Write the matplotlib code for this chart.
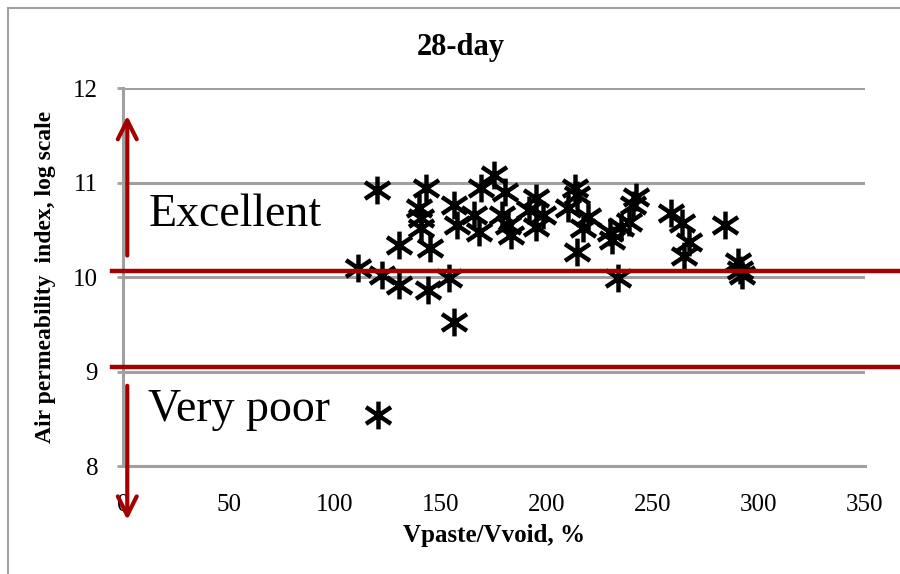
import matplotlib.pyplot as plt
from matplotlib.lines import Line2D
from matplotlib.path import Path

# Vpaste/Vvoid (%) and air permeability index (log scale), 28-day
vpaste_vvoid = [111, 120, 122, 130, 130, 139.5, 140.5, 140.5, 143, 144, 145, 154,
                156, 156, 157.5, 165.5, 168, 169, 175, 180, 179, 181.5, 183,
                191.5, 195, 195, 198, 210, 213, 214, 214, 217, 219.5, 229.5,
                230.5, 233.5, 235, 238.5, 240.5, 242, 258.5, 263.5, 267, 264.5,
                284, 290, 291, 292, 120.5]
perm_index = [10.10, 10.92, 10.02, 9.92, 10.34, 10.73, 10.63, 10.52, 10.94, 9.86,
              10.31, 9.99, 9.53, 10.76, 10.55, 10.66, 10.48, 10.95, 11.08, 10.90,
              10.66, 10.55, 10.45, 10.71, 10.84, 10.53, 10.66, 10.73, 10.95, 10.87,
              10.27, 10.52, 10.64, 10.48, 10.39, 9.99, 10.53, 10.58, 10.76, 10.85,
              10.68, 10.57, 10.37, 10.23, 10.55, 10.16, 10.08, 10.02, 8.54]

thresholds = [10.07, 9.05]
zone_labels = ["Excellent", "Very poor"]
zone_label_y = [10.66, 8.6]

red = '#a30000'
grey = '#a0a0a0'
serif = ['Liberation Serif', 'DejaVu Serif']

# Excel-style star: vertical bar + wide X
star = Path([(0, -1), (0, 1), (-0.9, -0.6), (0.9, 0.6), (-0.9, 0.6), (0.9, -0.6)],
            [Path.MOVETO, Path.LINETO] * 3)

fig = plt.figure(figsize=(9, 5.74), dpi=100)
ax = fig.add_axes([0.1367, 0.188, 0.8244, 0.658])

ax.scatter(vpaste_vvoid, perm_index, marker=star, s=400, color='black',
           linewidths=3.2, zorder=3)

for t in thresholds:
    ax.plot([-5, 372], [t, t], color=red, lw=3.2, clip_on=False, zorder=4)

# arrows
ax.annotate('', xy=(2, 11.74), xytext=(2, 10.2), annotation_clip=False,
            arrowprops=dict(arrowstyle='->', color=red, lw=3, mutation_scale=34))
ax.annotate('', xy=(2, 7.4), xytext=(2, 8.88), annotation_clip=False,
            arrowprops=dict(arrowstyle='->', color=red, lw=3, mutation_scale=34))

for lab, y in zip(zone_labels, zone_label_y):
    ax.text(12, y, lab, fontsize=33, family=serif, va='center', ha='left', zorder=5)

ax.set_xlim(0, 350)
ax.set_ylim(8, 12)
ax.set_xticks(range(0, 351, 50))
ax.set_yticks([8, 9, 10, 11, 12])
ax.grid(axis='y', color=grey, lw=2.2)
ax.set_axisbelow(True)
for s in ['top', 'right']:
    ax.spines[s].set_visible(False)
for s in ['left', 'bottom']:
    ax.spines[s].set_color(grey)
    ax.spines[s].set_linewidth(2.2)
ax.tick_params(axis='y', length=4, color=grey, width=2, pad=14)
ax.tick_params(axis='x', length=0, pad=20)
for lbl in ax.get_xticklabels() + ax.get_yticklabels():
    lbl.set_family(serif)
    lbl.set_fontsize(18)

ax.set_xlabel('Vpaste/Vvoid, %', family=serif, fontsize=18, fontweight='bold', labelpad=6)
ax.set_ylabel('Air permeability  index, log scale', family=serif, fontsize=17,
              fontweight='bold', labelpad=12)
fig.text(0.512, 0.918, '28-day', family=serif, fontsize=22, fontweight='bold',
         ha='center', va='center')

# chart border (left and top edges visible)
fig.add_artist(Line2D([8 / 900, 8 / 900], [0, 1 - 8 / 574], color=grey, lw=1.5))
fig.add_artist(Line2D([8 / 900, 1], [1 - 8 / 574, 1 - 8 / 574], color=grey, lw=1.5))

plt.savefig('out.png', dpi=100)
